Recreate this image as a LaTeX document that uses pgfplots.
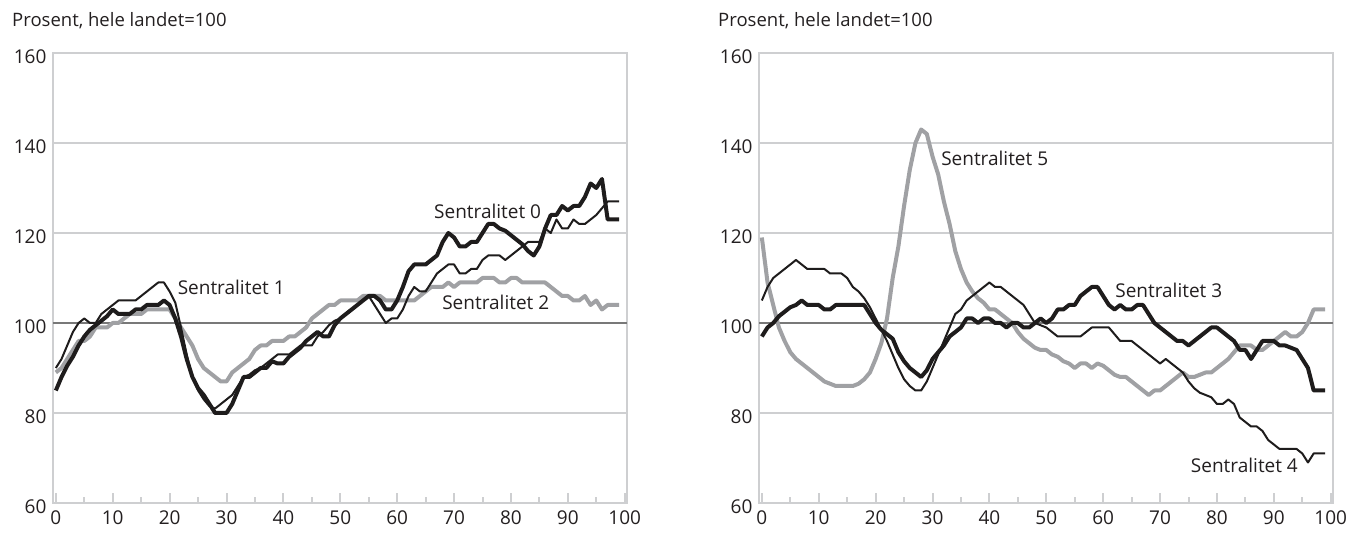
\documentclass[border=0pt]{standalone}
\usepackage{fontspec}
\setmainfont{Open Sans}
\usepackage{pgfplots}
\usepackage{pgfplotstable}
\pgfplotsset{compat=1.18}
\definecolor{lgray}{RGB}{206,207,209}
\definecolor{midgray}{RGB}{120,120,120}
\definecolor{sgray}{RGB}{160,161,164}
\definecolor{blk}{RGB}{30,28,28}
\definecolor{txt}{RGB}{35,31,32}

% Left panel: x, thick, thin, gray
\pgfplotstableread{
x a b c
0 85 90 89
1 88 92 90
2 90.5 95 92
3 92.5 98 94
4 95 100 96
5 97 101 96
6 98.5 100 97
7 99.5 100 99
8 100.5 102 99
9 101.5 103 99
10 103 104 100
11 102 105 100
12 102 105 101
13 102 105 102
14 103 105 102
15 103 106 102
16 104 107 103
17 104 108 103
18 104 109 103
19 105 109 103
20 104 107 103
21 101 104.5 101
22 97 99 99
23 92 93 97
24 88 88 95
25 85.5 85 92
26 84 83 90
27 82 81.5 89
28 80 81 88
29 80 82 87
30 80 83 87
31 82 84 89
32 85 86 90
33 88 88 91
34 88 88.5 92
35 89 89.5 94
36 90 90 95
37 90 91 95
38 91.5 92 96
39 91 93 96
40 91 93 96
41 92.5 93 97
42 93.5 94 97
43 94.5 95 98
44 96 95 99
45 97 95 101
46 98 97 102
47 97 98 103
48 97 99.5 104
49 99.5 100.5 104
50 101 101 105
51 102 102 105
52 103 103 105
53 104 104 105
54 105 105 106
55 106 106 106
56 106 104 106
57 105 102 106
58 103 100 105
59 103 101 105
60 105 101 105
61 108 103 105
62 111.5 106 105
63 113 108 105
64 113 107 106
65 113 107 107
66 114 109 108
67 115 111 108
68 118 112 108
69 120 113 109
70 119 113 108
71 117 111 109
72 117 111 109
73 118 112 109
74 118 112 109
75 120 114 110
76 122 115 110
77 122 115 110
78 121 115 109
79 120.5 114 109
80 119.5 115 110
81 118.5 116 110
82 117.5 117 109
83 116 118 109
84 115 118 109
85 117 118 109
86 121 121 109
87 124 120 108
88 124 123 107
89 126 121 106
90 125 121 106
91 126 123 105
92 126 122 105
93 128 122 106
94 131 123 104
95 130 124 105
96 132 125.5 103
97 123 127 104
98 123 127 104
99 123 127 104
}\lefttab

% Right panel: x, thick (S3), thin (S4), gray (S5)
\pgfplotstableread{
x a b c
0 97 105 119
1 99 108 109
2 100 110 104
3 101.5 111 99
4 102.5 112 96
5 103.5 113 93.5
6 104 114 92
7 105 113 91
8 104 112 90
9 104 112 89
10 104 112 88
11 103 112 87
12 103 111 86.5
13 104 111 86
14 104 111 86
15 104 110 86
16 104 108 86
17 104 107 86.5
18 104 105.5 87.5
19 102 103.5 89
20 100 101 92
21 98.5 98.5 95.5
22 97.5 96 101
23 96.5 93 110
24 93.5 90 117
25 91.5 87.5 126
26 90 86 134
27 89 85 140
28 88 85 143
29 89.5 87 142
30 92 90 137
31 93.5 93 133
32 95 96 127
33 97 99 122
34 98 102 116
35 99 103 112
36 101 105 109
37 101 106 107
38 100 107 105.5
39 101 108 104.5
40 101 109 103
41 100 108 103
42 100 108 102
43 99 107 101
44 100 106 100
45 100 105 98
46 99 104 96.5
47 99 102 95.5
48 100 100 94.5
49 101 99.5 94
50 100 99 94
51 101 98 93
52 103 97 92.5
53 103 97 91.5
54 104 97 91
55 104 97 90
56 106 97 91
57 107 98 91
58 108 99 90
59 108 99 91
60 106 99 90.5
61 104 99 89.5
62 103 97.5 88.5
63 104 96 88
64 103 96 88
65 103 96 87
66 104 95 86
67 104 94 85
68 102 93 84
69 100 92 85
70 99 91 85
71 98 92 86
72 97 91 87
73 96 90 88
74 96 89 89
75 95 87 88
76 96 85.5 88
77 97 84.5 88.5
78 98 84 89
79 99 83.5 89
80 99 82 90
81 98 82 91
82 97 83 92
83 96 82 93.5
84 94 79 95
85 94 78 95
86 92 77 95
87 94 77 94
88 96 76 94
89 96 74 95
90 96 73 96
91 95 72 97
92 95 72 98
93 94.5 72 97
94 94 72 97
95 92 71 98
96 90 69 100
97 85 71 103
98 85 71 103
99 85 71 103
}\righttab

\tikzset{lab/.style={anchor=west, text=txt, font=\fontsize{19}{22}\selectfont, inner sep=0pt}}
\pgfplotsset{
  panel/.style={
    anchor=south west, scale only axis,
    width=574pt, height=450pt,
    xmin=-0.5, xmax=100.4, ymin=60, ymax=160,
    xtick={0,10,...,100}, minor x tick num=1,
    ytick={60,80,...,160},
    xtick pos=bottom, ytick pos=left,
    tick align=inside,
    major tick length=10pt, minor tick length=6pt,
    x tick style={draw=lgray, line width=2pt},
    minor x tick style={draw=lgray, line width=2pt},
    y tick style={draw=none},
    axis line style={draw=lgray, line width=2.5pt},
    ymajorgrids, grid style={draw=lgray, line width=2pt},
    tick label style={font=\fontsize{19}{22}\selectfont, text=txt},
    /pgf/number format/assume math mode=true,
    yticklabel style={xshift=-3pt, yshift=-4pt},
    xticklabel style={inner sep=0pt, yshift=-8pt},
    clip=false,
  },
}

\begin{document}
\begin{tikzpicture}
\useasboundingbox (0,0) rectangle (1350pt,534pt);
\node[anchor=west, text=txt, font=\fontsize{18.5}{22}\selectfont, inner sep=0pt] at (12pt,513pt) {Prosent, hele landet=100};
\node[anchor=west, text=txt, font=\fontsize{18.5}{22}\selectfont, inner sep=0pt] at (718pt,513pt) {Prosent, hele landet=100};

\begin{axis}[panel, at={(53pt,31pt)}]
\addplot[draw=midgray, line width=2.2pt] coordinates {(-0.5,100) (100.4,100)};
\addplot[draw=sgray, line width=4pt, line join=round] table[x=x, y=c] {\lefttab};
\addplot[draw=blk, line width=2pt, line join=round] table[x=x, y=b] {\lefttab};
\addplot[draw=blk, line width=4pt, line join=round] table[x=x, y=a] {\lefttab};
\node[lab] at (axis cs:21.4,107.9) {Sentralitet 1};
\node[lab, fill=white, inner xsep=1pt] at (axis cs:66.3,124.9) {Sentralitet 0};
\node[lab] at (axis cs:67.9,104.5) {Sentralitet 2};
\end{axis}

\begin{axis}[panel, at={(759pt,31pt)}]
\addplot[draw=midgray, line width=2.2pt] coordinates {(-0.5,100) (100.4,100)};
\addplot[draw=sgray, line width=4pt, line join=round] table[x=x, y=c] {\righttab};
\addplot[draw=blk, line width=2pt, line join=round] table[x=x, y=b] {\righttab};
\addplot[draw=blk, line width=4pt, line join=round] table[x=x, y=a] {\righttab};
\node[lab] at (axis cs:31.5,136.6) {Sentralitet 5};
\node[lab] at (axis cs:62.1,107.2) {Sentralitet 3};
\node[lab] at (axis cs:75.4,68.4) {Sentralitet 4};
\end{axis}
\end{tikzpicture}
\end{document}
